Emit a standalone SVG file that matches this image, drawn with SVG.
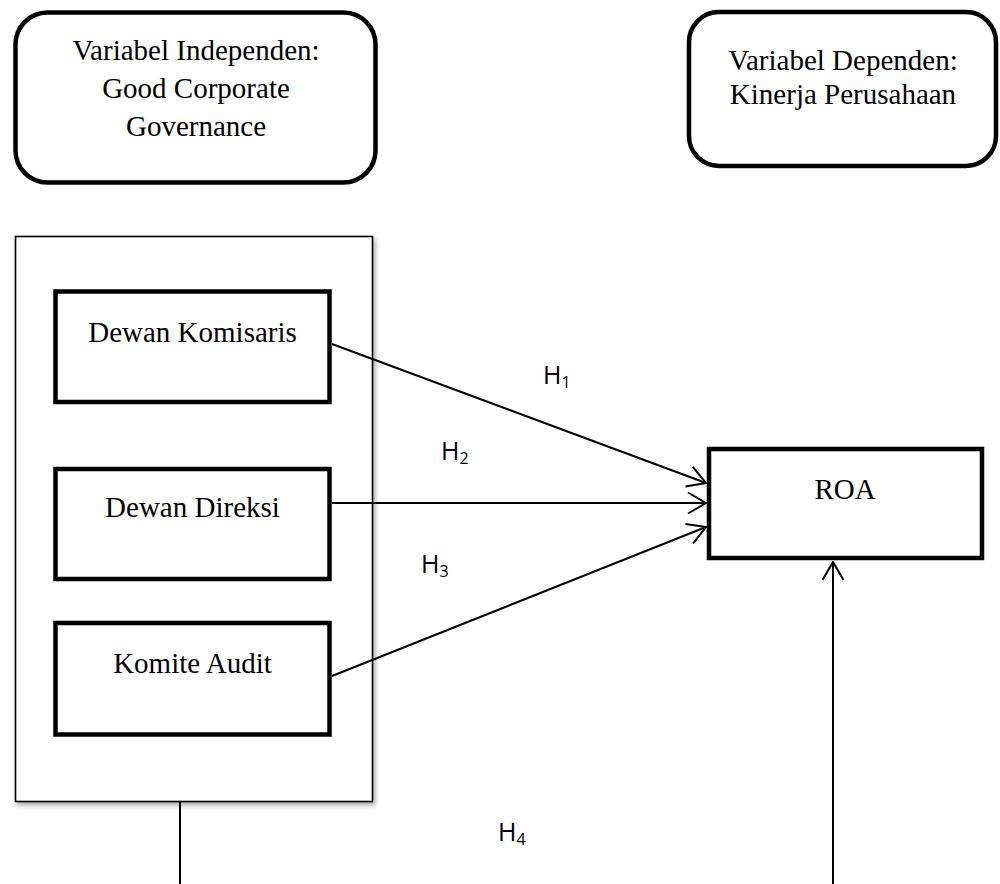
<svg xmlns="http://www.w3.org/2000/svg" width="1000" height="884" viewBox="0 0 1000 884">
  <style>
    .serif { font-family: "Liberation Serif", "Times New Roman", serif; font-size: 29px; fill: #000; text-anchor: middle; }
    .sans { font-family: "Open Sans", "Liberation Sans", sans-serif; font-size: 25px; fill: #000; }
    .sub { font-size: 16px; }
    .rbox { fill: #fff; stroke: #000; stroke-width: 4.5; }
    .box { fill: #fff; stroke: #000; stroke-width: 4.5; }
    .thin { fill: #fff; stroke: #000; stroke-width: 1.6; }
    .conn { fill: none; stroke: #000; stroke-width: 2; }
  </style>
  <defs>
    <marker id="arrow" viewBox="0 0 20 24" refX="19" refY="12" markerWidth="20" markerHeight="24" markerUnits="userSpaceOnUse" orient="auto">
      <path d="M1,1.5 L19,12 L1,22.5" fill="none" stroke="#000" stroke-width="2"/>
    </marker>
    <filter id="shadow" x="-5%" y="-5%" width="115%" height="115%">
      <feDropShadow dx="2" dy="3" stdDeviation="2.5" flood-color="#000" flood-opacity="0.35"/>
    </filter>
  </defs>

  <rect width="1000" height="884" fill="#fff"/>

  <g id="var-independen">
    <rect class="rbox" x="15.5" y="12.5" width="360" height="170" rx="32" ry="32"/>
    <text class="serif" x="196" y="60">Variabel Independen:</text>
    <text class="serif" x="196" y="98">Good Corporate</text>
    <text class="serif" x="196" y="136">Governance</text>
  </g>

  <g id="var-dependen">
    <rect class="rbox" x="689" y="12" width="307" height="154" rx="30" ry="30"/>
    <text class="serif" x="843" y="70">Variabel Dependen:</text>
    <text class="serif" x="843" y="104">Kinerja Perusahaan</text>
  </g>

  <g id="gcg-container">
    <rect class="thin" x="15.5" y="236.5" width="357" height="565" filter="url(#shadow)"/>
  </g>

  <g id="dewan-komisaris">
    <rect class="box" x="55.5" y="291.5" width="274" height="110.5"/>
    <text class="serif" x="192.5" y="342">Dewan Komisaris</text>
  </g>

  <g id="dewan-direksi">
    <rect class="box" x="55.5" y="469" width="274" height="110"/>
    <text class="serif" x="192.5" y="517">Dewan Direksi</text>
  </g>

  <g id="komite-audit">
    <rect class="box" x="55.5" y="623" width="274" height="111.5"/>
    <text class="serif" x="192.5" y="673">Komite Audit</text>
  </g>

  <g id="roa">
    <rect class="box" x="709" y="449" width="273" height="109"/>
    <text class="serif" x="845" y="499">ROA</text>
  </g>

  <g id="connectors">
    <line class="conn" x1="332" y1="344" x2="706" y2="483" marker-end="url(#arrow)"/>
    <line class="conn" x1="332" y1="503" x2="706" y2="503" marker-end="url(#arrow)"/>
    <line class="conn" x1="332" y1="676" x2="706" y2="527" marker-end="url(#arrow)"/>
    <line class="conn" x1="180" y1="802" x2="180" y2="884"/>
    <line class="conn" x1="833" y1="884" x2="833" y2="562" marker-end="url(#arrow)"/>
  </g>

  <g id="labels">
    <text class="sans" x="543" y="384">H<tspan class="sub" dy="4">1</tspan></text>
    <text class="sans" x="441" y="460">H<tspan class="sub" dy="4">2</tspan></text>
    <text class="sans" x="421" y="573">H<tspan class="sub" dy="4">3</tspan></text>
    <text class="sans" x="498" y="841">H<tspan class="sub" dy="4">4</tspan></text>
  </g>
</svg>
